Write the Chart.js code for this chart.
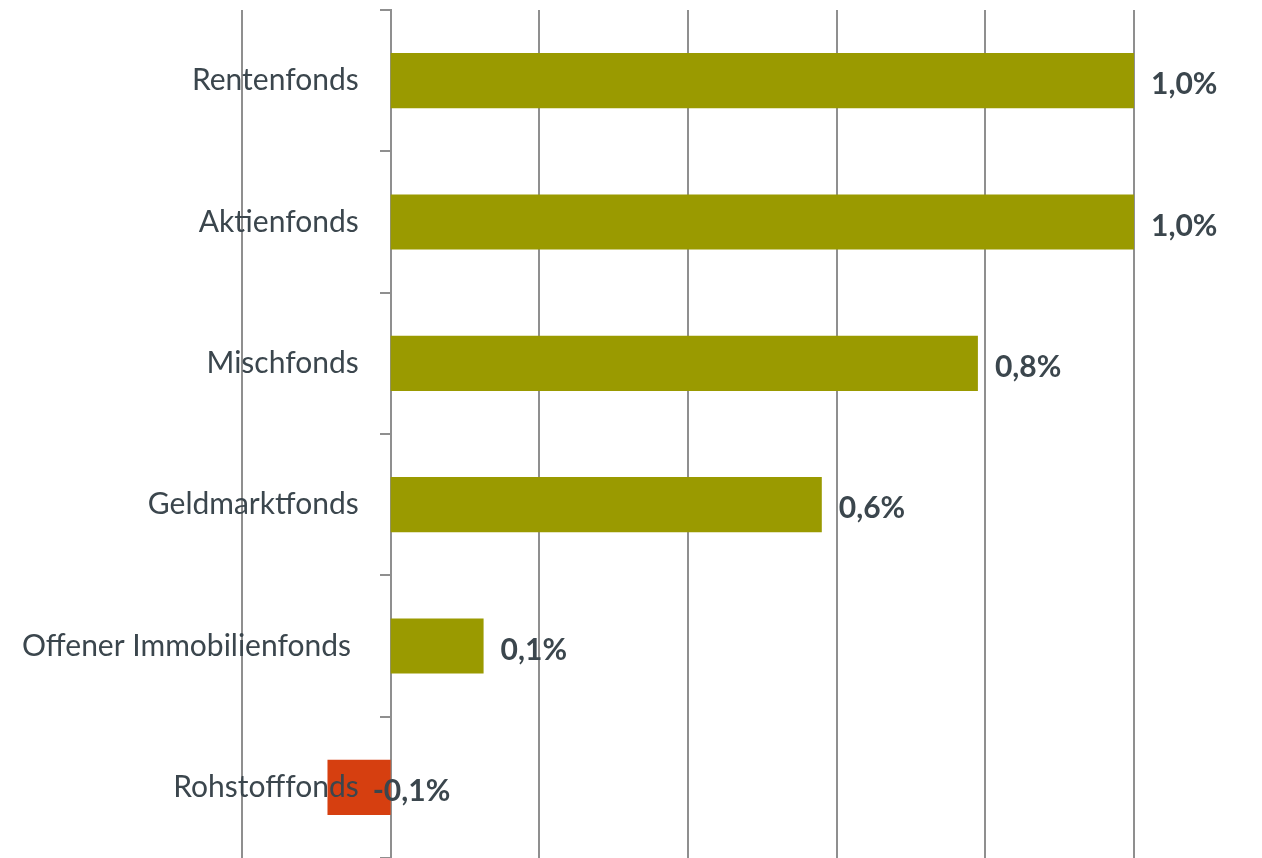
<!DOCTYPE html>
<html lang="de">
<head>
<meta charset="utf-8">
<title>Fondskategorien</title>
<script src="https://cdn.jsdelivr.net/npm/chart.js@4/dist/chart.umd.min.js"></script>
<style>
  html, body { margin: 0; padding: 0; background: #fff; }
  #wrap { width: 1262px; height: 858px; }
</style>
</head>
<body>
<div id="wrap"><canvas id="fundsChart" width="1262" height="858"></canvas></div>
<script>
// --- Data ---
const categories = ["Rentenfonds", "Aktienfonds", "Mischfonds", "Geldmarktfonds", "Offener Immobilienfonds ", "Rohstofffonds"];
const values = [1.0, 1.0, 0.79, 0.58, 0.125, -0.085];
const xMin = -0.2;
const xMax = 1.0;
const xStep = 0.2;

// category names are right-aligned just left of the zero line
const labelAnchor = -0.043;

// --- Colours ---
const olive = "#9a9a00";
const red = "#d63f10";
const textColor = "#3b464d";
const gridColor = "#8f8f8f";

Chart.defaults.font.family = "Lato, 'Open Sans', sans-serif";

function formatPct(v) {
  return v.toFixed(1).replace(".", ",") + "%";
}

// value labels next to the bars
const valueLabels = {
  id: "valueLabels",
  afterDatasetsDraw(chart) {
    const ctx = chart.ctx;
    const meta = chart.getDatasetMeta(0);
    const zeroX = chart.scales.x.getPixelForValue(0);
    ctx.save();
    ctx.font = "bold 30px Lato, 'Open Sans', sans-serif";
    ctx.fillStyle = textColor;
    ctx.textBaseline = "middle";
    ctx.textAlign = "left";
    meta.data.forEach((bar, i) => {
      const v = values[i];
      const x = v >= 0 ? bar.x + 17 : zeroX - 18;
      ctx.fillText(formatPct(v), x, bar.y + 4);
    });
    ctx.restore();
  }
};

new Chart(document.getElementById("fundsChart"), {
  type: "bar",
  data: {
    labels: categories,
    datasets: [{
      data: values,
      backgroundColor: values.map(v => v < 0 ? red : olive),
      borderWidth: 0,
      barPercentage: 0.39,
      categoryPercentage: 1.0
    }]
  },
  options: {
    indexAxis: "y",
    responsive: false,
    animation: false,
    layout: { padding: { top: 10, left: 242, right: 128, bottom: 0 } },
    plugins: {
      legend: { display: false },
      tooltip: { enabled: false }
    },
    scales: {
      x: {
        min: xMin,
        max: xMax,
        ticks: { display: false, stepSize: xStep },
        grid: { color: gridColor, lineWidth: 2, drawTicks: false },
        border: { display: false }
      },
      // category names
      y: {
        position: { x: labelAnchor },
        grid: { display: false, drawTicks: false },
        border: { display: false },
        ticks: {
          z: 1,
          padding: -20,
          color: textColor,
          font: { size: 30 }
        }
      },
      // axis line with tick marks at zero
      yMarks: {
        type: "category",
        position: { x: 0 },
        ticks: { display: false },
        grid: {
          offset: true,
          drawOnChartArea: false,
          tickLength: 10,
          color: gridColor,
          lineWidth: 2
        },
        border: { display: true, color: gridColor, width: 2 }
      }
    }
  },
  plugins: [valueLabels]
});
</script>
</body>
</html>
